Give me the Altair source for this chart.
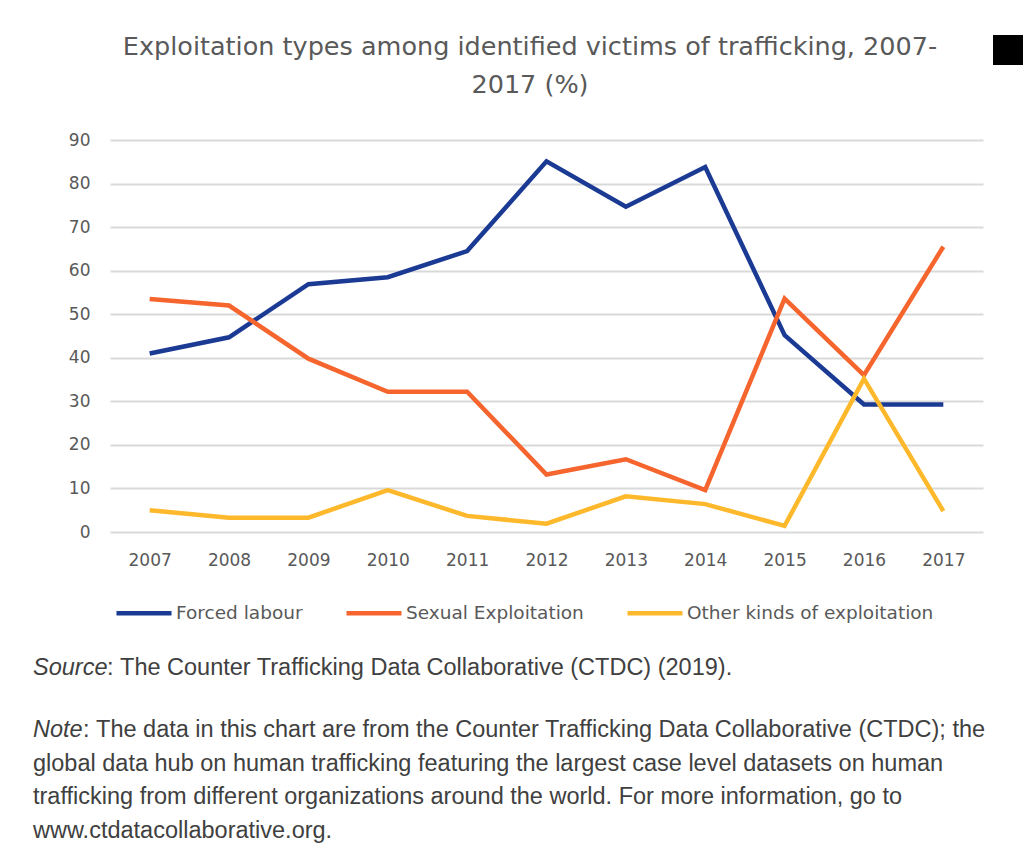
import altair as alt
import pandas as pd

years = ["2007", "2008", "2009", "2010", "2011", "2012", "2013", "2014", "2015", "2016", "2017"]
series = ["Forced labour", "Sexual Exploitation", "Other kinds of exploitation"]
forced = [41.0, 44.7, 56.9, 58.5, 64.5, 85.1, 74.7, 83.8, 45.2, 29.3, 29.3]
sexual = [53.5, 52.0, 39.8, 32.2, 32.2, 13.2, 16.7, 9.6, 53.6, 36.0, 65.5]
other = [5.0, 3.3, 3.3, 9.6, 3.7, 1.9, 8.2, 6.4, 1.4, 35.2, 4.8]
colors = ["#1B3A93", "#F5652D", "#FDB92B"]
y_ticks = [0, 10, 20, 30, 40, 50, 60, 70, 80, 90]

title_lines = ["Exploitation types among identified victims of trafficking, 2007-", "2017 (%)"]
source_label = "Source"
source_text = ":\u00a0The Counter Trafficking Data Collaborative (CTDC) (2019)."
note_label = "Note"
note_lines = [
    ":\u00a0The data in this chart are from the Counter Trafficking Data Collaborative (CTDC); the",
    "global data hub on human trafficking featuring the  largest case level datasets on human",
    "trafficking from different organizations around the world. For more information, go to",
    "www.ctdatacollaborative.org.",
]

rows = []
for name, vals in zip(series, [forced, sexual, other]):
    for yr, v in zip(years, vals):
        rows.append({"year": yr, "value": v, "series": name})
df = pd.DataFrame(rows)

FONT = "Liberation Sans"
AXFONT = "DejaVu Sans"
GRAY = "#595959"
W, H = 873, 392

lines = alt.Chart(df).mark_line(strokeWidth=4.5, strokeJoin="miter").encode(
    x=alt.X("year:O", sort=years, scale=alt.Scale(padding=0.5),
            axis=alt.Axis(title=None, labelAngle=0, domain=False, ticks=False, grid=False,
                          labelPadding=20, labelFontSize=17, labelColor=GRAY, labelFont=AXFONT)),
    y=alt.Y("value:Q", scale=alt.Scale(domain=[0, 90], nice=False),
            axis=alt.Axis(title=None, values=y_ticks, domain=False, ticks=False,
                          gridColor="#d9d9d9", gridWidth=2, labelPadding=20,
                          labelFontSize=17, labelColor=GRAY, labelFont=AXFONT)),
    color=alt.Color("series:N", sort=series,
                    scale=alt.Scale(domain=series, range=colors),
                    legend=alt.Legend(title=None, orient="none", legendX=4, legendY=443,
                                      direction="horizontal", symbolType="stroke",
                                      symbolSize=3025, symbolStrokeWidth=4.5,
                                      labelFontSize=18.5, labelColor=GRAY, labelFont=AXFONT,
                                      labelOffset=2, columnPadding=34, labelLimit=0)),
    detail="series:N",
)

def txt(s, x, y, italic=False, size=23.5, color="#404040", align="left", font=FONT):
    return alt.Chart(pd.DataFrame({"t": [s]})).mark_text(
        align=align, baseline="alphabetic", font=font, fontSize=size, color=color,
        fontStyle="italic" if italic else "normal"
    ).encode(text="t:N", x=alt.value(x), y=alt.value(y))

layers = [lines]
# title
layers.append(txt(title_lines[0], 420, -85, size=25.5, color=GRAY, align="center", font=AXFONT))
layers.append(txt(title_lines[1], 420, -47, size=25.5, color=GRAY, align="center", font=AXFONT))
# source and note
layers.append(txt(source_label, -77, 535, True))
layers.append(txt(source_text, -3, 535))
layers.append(txt(note_label, -77, 597, True))
layers.append(txt(note_lines[0], -27, 597))
for i, ln in enumerate(note_lines[1:]):
    layers.append(txt(ln, -77, 630.5 + 33.5 * i))

square = alt.Chart(pd.DataFrame({"k": [0]})).mark_square(color="black", opacity=1).encode(
    x=alt.value(898), y=alt.value(-90), size=alt.value(900)
)
layers.append(square)

chart = alt.layer(*layers).properties(
    width=W, height=H,
    autosize=alt.AutoSizeParams(type="none"),
    padding={"left": 102, "top": 132, "right": 44, "bottom": 318},
).configure_view(stroke=None)

chart.save("out.html", embed_options={"renderer": "svg", "actions": False})
